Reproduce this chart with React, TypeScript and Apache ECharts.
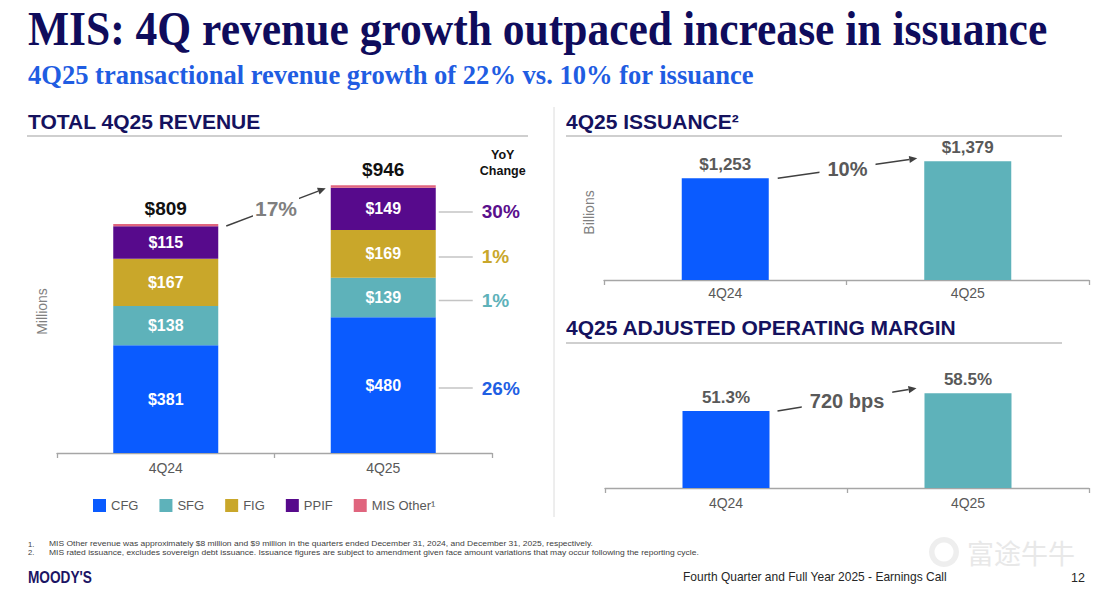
import React, { useEffect, useRef } from "react";
import * as echarts from "echarts";

// ---- data ----
const quarters = ["4Q24", "4Q25"];
const segments = ["CFG", "SFG", "FIG", "PPIF", "MIS Other"];
const cfgRevenue = [381, 480];
const sfgRevenue = [138, 139];
const figRevenue = [167, 169];
const ppifRevenue = [115, 149];
const otherRevenue = [8, 9];
const yoyChange = ["26%", "1%", "1%", "30%"]; // CFG, SFG, FIG, PPIF
const revenueGrowth = "17%";
const issuanceBillions = [1253, 1379];
const issuanceGrowth = "10%";
const adjOperatingMargin = [51.3, 58.5];
const marginChange = "720 bps";

const segmentValues = [cfgRevenue, sfgRevenue, figRevenue, ppifRevenue, otherRevenue];
const totals = quarters.map((_, i) => segmentValues.reduce((s, arr) => s + arr[i], 0));

// ---- styling ----
const COLORS = ["#0a5bff", "#5eb2ba", "#c9a72a", "#570a8c", "#e0657e"];
const YOY_COLORS = ["#1f5fe3", "#5eb2ba", "#c9a72a", "#5a0f8c"];
const NAVY = "#15125e";
const SANS = '"Liberation Sans", Arial, sans-serif';
const SERIF = '"Liberation Serif", "Times New Roman", serif';
const GREY_TEXT = "#595959";
const AXIS_GREY = "#a6a6a6";
const STACK_BAR_W = 105;
const SIDE_BAR_W = 87;

function textWidth(text: string, font: string): number {
  const ctx = document.createElement("canvas").getContext("2d");
  if (!ctx) return text.length * 8;
  ctx.font = font;
  return ctx.measureText(text).width;
}

function fittedText(text: string, x: number, y: number, font: string, width: number, fill: string, z = 10) {
  const w = textWidth(text, font);
  return {
    type: "text",
    x,
    y,
    scaleX: width / w,
    z,
    style: { text, x: 0, y: 0, font, fill, align: "left", verticalAlign: "middle", textAlign: "left", textVerticalAlign: "middle" },
  };
}

function plainText(text: string, x: number, y: number, font: string, fill: string, align = "left", z = 10, extra: any = {}) {
  return {
    type: "text",
    x,
    y,
    z,
    style: { text, x: 0, y: 0, font, fill, align, verticalAlign: "middle", textAlign: align, textVerticalAlign: "middle", ...extra },
  };
}

function hLine(x1: number, x2: number, y: number, stroke: string, lineWidth: number) {
  return { type: "line", z: 1, shape: { x1, y1: y, x2, y2: y }, style: { stroke, lineWidth } };
}

function arrow(x1: number, y1: number, x2: number, y2: number, color: string) {
  const dx = x2 - x1;
  const dy = y2 - y1;
  const len = Math.hypot(dx, dy);
  const ux = dx / len;
  const uy = dy / len;
  const bx = x2 - ux * 8;
  const by = y2 - uy * 8;
  return [
    { type: "line", z: 5, shape: { x1, y1, x2: bx, y2: by }, style: { stroke: color, lineWidth: 1.5 } },
    {
      type: "polygon",
      z: 5,
      shape: { points: [[x2, y2], [bx - uy * 3.6, by + ux * 3.6], [bx + uy * 3.6, by - ux * 3.6]] },
      style: { fill: color },
    },
  ];
}

function buildOption(): any {
  const catAxis = (gridIndex: number, margin: number) => ({
    type: "category",
    gridIndex,
    data: quarters,
    axisLine: { onZero: false, lineStyle: { color: AXIS_GREY, width: 1.3 } },
    axisTick: { show: true, length: 5, lineStyle: { color: AXIS_GREY, width: 1.3 } },
    axisLabel: { fontSize: 14, color: GREY_TEXT, margin, fontFamily: SANS },
    splitLine: { show: false },
  });
  const valAxis = (gridIndex: number, min: number, max: number, name: string) => ({
    type: "value",
    gridIndex,
    min,
    max,
    name,
    nameLocation: "middle",
    nameGap: 8,
    nameTextStyle: { fontSize: 14, color: "#7f7f7f", fontFamily: SANS },
    axisLine: { show: false },
    axisTick: { show: false },
    axisLabel: { show: false },
    splitLine: { show: false },
  });

  const stackSeries = segments.map((name, si) => {
    const isTop = si === segments.length - 1;
    return {
      name,
      type: "bar",
      stack: "revenue",
      xAxisIndex: 0,
      yAxisIndex: 0,
      barWidth: STACK_BAR_W,
      data: segmentValues[si],
      itemStyle: { color: COLORS[si] },
      label: isTop
        ? {
            show: true,
            position: "top",
            distance: 6,
            formatter: (p: any) => "$" + totals[p.dataIndex],
            color: "#111111",
            fontSize: 19,
            fontWeight: "bold",
            fontFamily: SANS,
          }
        : {
            show: true,
            position: "inside",
            formatter: (p: any) => "$" + p.value,
            color: "#ffffff",
            fontSize: 16,
            fontWeight: "bold",
            fontFamily: SANS,
          },
    };
  });

  const sideColors = [COLORS[0], COLORS[1]];

  return {
    animation: false,
    backgroundColor: "#ffffff",
    textStyle: { fontFamily: SANS },
    grid: [
      { left: 57, top: 170, width: 435, height: 283 },
      { left: 604, top: 145, width: 485, height: 135 },
      { left: 605, top: 365, width: 484, height: 123 },
    ],
    xAxis: [catAxis(0, 8), catAxis(1, 6), catAxis(2, 8)],
    yAxis: [
      valAxis(0, 0, 1000, "Millions"),
      valAxis(1, 500, 1500, "Billions"),
      valAxis(2, 20, 70, ""),
    ],
    legend: {
      data: segments,
      left: 88,
      top: 494,
      icon: "rect",
      itemWidth: 13,
      itemHeight: 13,
      itemGap: 21,
      selectedMode: false,
      textStyle: { fontSize: 13, color: GREY_TEXT, fontFamily: SANS },
      formatter: (name: string) => (name === "MIS Other" ? "MIS Other\u00b9" : name),
    },
    series: [
      ...stackSeries,
      {
        name: "Issuance",
        type: "bar",
        xAxisIndex: 1,
        yAxisIndex: 1,
        barWidth: SIDE_BAR_W,
        data: issuanceBillions.map((v, i) => ({ value: v, itemStyle: { color: sideColors[i] } })),
        label: {
          show: true,
          position: "top",
          distance: 5,
          formatter: (p: any) => "$" + Number(p.value).toLocaleString("en-US"),
          color: GREY_TEXT,
          fontSize: 17,
          fontWeight: "bold",
          fontFamily: SANS,
        },
      },
      {
        name: "Adjusted operating margin",
        type: "bar",
        xAxisIndex: 2,
        yAxisIndex: 2,
        barWidth: SIDE_BAR_W,
        data: adjOperatingMargin.map((v, i) => ({ value: v, itemStyle: { color: sideColors[i] } })),
        label: {
          show: true,
          position: "top",
          distance: 5,
          formatter: (p: any) => Number(p.value).toFixed(1) + "%",
          color: GREY_TEXT,
          fontSize: 17,
          fontWeight: "bold",
          fontFamily: SANS,
        },
      },
    ],
  };
}

function buildGraphics(chart: echarts.ECharts): any[] {
  const px = (grid: number, cat: string, v: number) =>
    chart.convertToPixel({ gridIndex: grid } as any, [cat, v]) as unknown as number[];
  const els: any[] = [];

  // page titles
  els.push(fittedText("MIS: 4Q revenue growth outpaced increase in issuance", 28, 29, `bold 48px ${SERIF}`, 1019, "#0f0c5c"));
  els.push(fittedText("4Q25 transactional revenue growth of 22% vs. 10% for issuance", 28, 75, `bold 27px ${SERIF}`, 727, "#1f5de2"));

  // section headers and rules
  const headFont = `bold 21px ${SANS}`;
  els.push(plainText("TOTAL 4Q25 REVENUE", 28, 121, headFont, NAVY));
  els.push(plainText("4Q25 ISSUANCE\u00b2", 566, 121, headFont, NAVY));
  els.push(plainText("4Q25 ADJUSTED OPERATING MARGIN", 566, 327, headFont, NAVY));
  els.push(hLine(27, 528, 136, "#cfcfcf", 2));
  els.push(hLine(566, 1062, 136, "#cfcfcf", 2));
  els.push(hLine(566, 1062, 343, "#cfcfcf", 2));
  els.push({ type: "line", z: 1, shape: { x1: 554, y1: 107, x2: 554, y2: 517 }, style: { stroke: "#dcdcdc", lineWidth: 1 } });

  // revenue growth arrow between stacked bars
  const halfS = STACK_BAR_W / 2;
  const r0 = px(0, quarters[0], totals[0]);
  const r1 = px(0, quarters[1], totals[1]);
  const ra = [r0[0] + halfS + 8, r0[1] + 2];
  const rb = [r1[0] - halfS - 5, r1[1] + 3];
  els.push(...arrow(ra[0], ra[1], rb[0], rb[1], "#404040"));
  els.push(
    plainText(revenueGrowth, (ra[0] + rb[0]) / 2, (ra[1] + rb[1]) / 2 + 1, `bold 21px ${SANS}`, "#7f7f7f", "center", 8, {
      backgroundColor: "#ffffff",
      padding: [2, 2],
    })
  );

  // YoY change column
  let base = 0;
  for (let si = 0; si < yoyChange.length; si++) {
    const v = segmentValues[si][1];
    const c = px(0, quarters[1], base + v / 2);
    base += v;
    const right = c[0] + halfS;
    const y = c[1] + 3;
    els.push(hLine(right + 3, right + 37, y, "#c4c4c4", 1.5));
    els.push(plainText(yoyChange[si], right + 46, y, `bold 19px ${SANS}`, YOY_COLORS[si]));
  }
  const yoyX = r1[0] + halfS + 67;
  els.push(plainText("YoY", yoyX, r1[1] - 30, `bold 12.5px ${SANS}`, "#111111", "center"));
  els.push(plainText("Change", yoyX, r1[1] - 14, `bold 12.5px ${SANS}`, "#111111", "center"));

  // issuance arrow
  const halfB = SIDE_BAR_W / 2;
  const i0 = px(1, quarters[0], issuanceBillions[0]);
  const i1 = px(1, quarters[1], issuanceBillions[1]);
  const ia = [i0[0] + halfB + 9, i0[1]];
  const ib = [i1[0] - halfB - 7, i1[1] - 3];
  els.push(...arrow(ia[0], ia[1], ib[0], ib[1], "#404040"));
  els.push(
    plainText(issuanceGrowth, (ia[0] + ib[0]) / 2, (ia[1] + ib[1]) / 2 + 1, `bold 20px ${SANS}`, GREY_TEXT, "center", 8, {
      backgroundColor: "#ffffff",
      padding: [2, 8],
    })
  );

  // margin arrow
  const m0 = px(2, quarters[0], adjOperatingMargin[0]);
  const m1 = px(2, quarters[1], adjOperatingMargin[1]);
  const ma = [m0[0] + halfB + 8, m0[1]];
  const mb = [m1[0] - halfB - 8, m1[1] - 5];
  els.push(...arrow(ma[0], ma[1], mb[0], mb[1], "#404040"));
  els.push(
    plainText(marginChange, (ma[0] + mb[0]) / 2, (ma[1] + mb[1]) / 2 + 1.5, `bold 20px ${SANS}`, GREY_TEXT, "center", 8, {
      backgroundColor: "#ffffff",
      padding: [2, 8],
    })
  );

  // footnotes
  const noteFont = `7.6px ${SANS}`;
  const note1 =
    "MIS Other revenue was approximately $8 million and $9 million in the quarters ended December 31, 2024, and December 31, 2025, respectively.";
  const note2 =
    "MIS rated issuance, excludes sovereign debt issuance. Issuance figures are subject to amendment given face amount variations that may occur following the reporting cycle.";
  els.push(plainText("1.", 28, 544, noteFont, "#404040"));
  els.push(plainText("2.", 28, 552.5, noteFont, "#404040"));
  els.push(fittedText(note1, 49, 544, noteFont, 545, "#404040"));
  els.push(fittedText(note2, 49, 552.5, noteFont, 651, "#404040"));

  // footer
  els.push(fittedText("MOODY'S", 28, 577, `bold 17px ${SANS}`, 64, "#1b1464"));
  els.push(fittedText("Fourth Quarter and Full Year 2025 - Earnings Call", 683, 577, `12.5px ${SANS}`, 264, "#262626"));
  els.push(plainText("12", 1071, 578, `12.5px ${SANS}`, "#262626"));

  // watermark
  els.push({ type: "ring", z: 0, shape: { cx: 944, cy: 552, r: 15, r0: 9.5 }, style: { fill: "#eeeeee" } });
  els.push(plainText("富途牛牛", 967, 552, `27px "Noto Sans CJK SC"`, "#e8e8e8", "left", 0));

  return els;
}

export default function App() {
  const ref = useRef<HTMLDivElement>(null);
  useEffect(() => {
    const el = ref.current;
    if (!el) return;
    const chart = echarts.init(el, undefined, { renderer: "svg", width: 1106, height: 594 });
    chart.setOption(buildOption());
    chart.setOption({ graphic: { elements: buildGraphics(chart) } });
    return () => chart.dispose();
  }, []);
  return (
    <div
      ref={ref}
      style={{ position: "absolute", left: 0, top: 0, width: 1106, height: 594, background: "#ffffff" }}
    />
  );
}
